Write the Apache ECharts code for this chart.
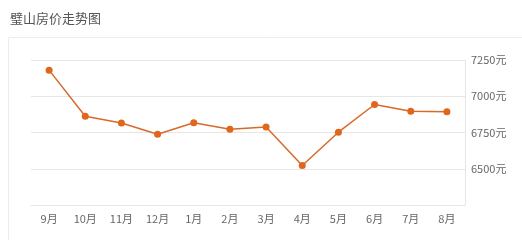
<!DOCTYPE html>
<html><head><meta charset="utf-8">
<script src="https://cdn.jsdelivr.net/npm/echarts@6/dist/echarts.min.js"></script>
<style>html,body{margin:0;padding:0;background:#fff}#c{width:522px;height:240px}</style>
</head><body><div id="c"></div>
<script>
var title = '璧山房价走势图';
var months = ['9月','10月','11月','12月','1月','2月','3月','4月','5月','6月','7月','8月'];
var prices = [7180, 6862, 6815, 6738, 6817, 6772, 6788, 6522, 6752, 6943, 6897, 6893];
var chart = echarts.init(document.getElementById('c'));
chart.setOption({
  animation: false,
  title: {text: title, left: 5, top: 7, textStyle: {fontSize: 13, fontWeight: 'normal', color: '#555', fontFamily: 'Noto Sans CJK SC'}},
  graphic: [{type: 'rect', shape: {x: 8.5, y: 37.5, width: 530, height: 220}, style: {fill: 'none', stroke: '#ececec', lineWidth: 1}, z: -1}],
  grid: {left: 31, right: 57, top: 60, bottom: 35},
  xAxis: {
    type: 'category', data: months, boundaryGap: true,
    axisLine: {lineStyle: {color: '#e6e6e6'}}, axisTick: {show: false},
    axisLabel: {color: '#666', fontSize: 11, margin: 8, fontFamily: 'Noto Sans CJK SC'}
  },
  yAxis: {
    type: 'value', position: 'right', min: 6250, max: 7250, interval: 250,
    axisLine: {show: true, lineStyle: {color: '#e6e6e6'}}, axisTick: {show: false},
    splitLine: {lineStyle: {color: '#e6e6e6'}},
    axisLabel: {color: '#666', fontSize: 11, margin: 6, fontFamily: 'Noto Sans CJK SC',
      formatter: function (v) { return v === 6250 ? '' : v + '元'; }}
  },
  series: [{
    type: 'line', data: prices, symbol: 'circle', symbolSize: 7,
    lineStyle: {color: '#d9692a', width: 1.5},
    itemStyle: {color: '#e0661c'}
  }]
});
</script></body></html>
